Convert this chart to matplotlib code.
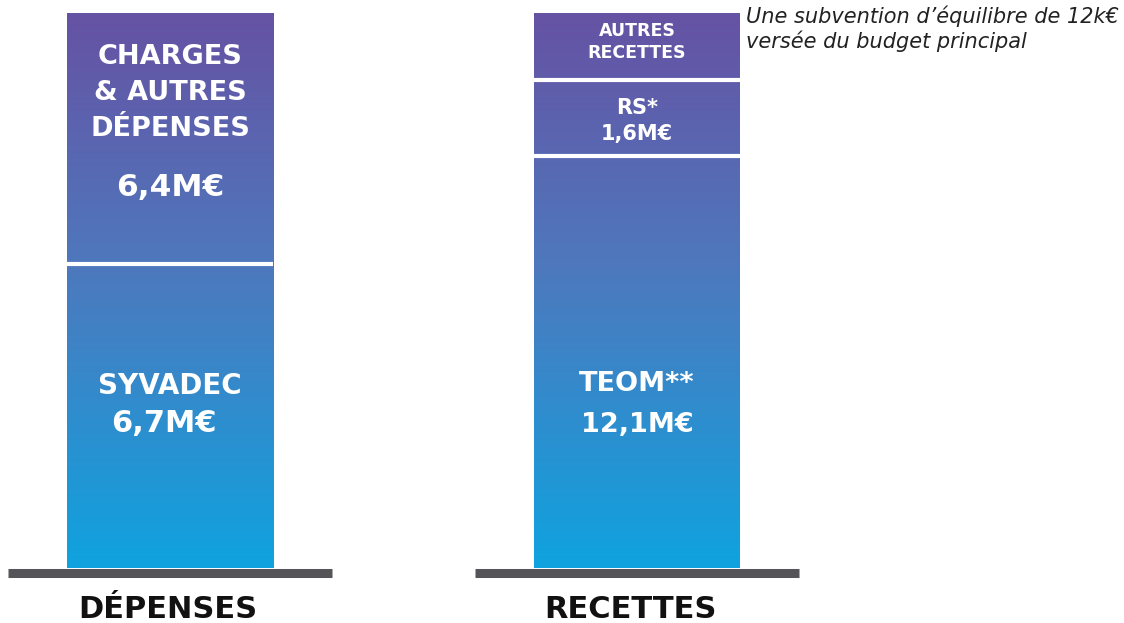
import numpy as np
import matplotlib
matplotlib.use("Agg")
import matplotlib.pyplot as plt
from matplotlib.colors import LinearSegmentedColormap

# ---- data (segment heights as drawn, share of bar height in %) ----
groups = ["DÉPENSES", "RECETTES"]
depenses_labels = ["SYVADEC\n6,7M€", "CHARGES\n& AUTRES\nDÉPENSES"]
depenses_heights = [54.7, 45.3]
recettes_labels = ["TEOM**\n12,1M€", "RS*\n1,6M€", "AUTRES\nRECETTES"]
recettes_heights = [74.3, 13.6, 12.1]
charges_value = "6,4M€"
note = "Une subvention d’équilibre de 12k€\nversée du budget principal"

# ---- figure ----
W, H = 1124, 623
fig = plt.figure(figsize=(W / 100, H / 100), dpi=100)
ax = fig.add_axes([0, 0, 1, 1])
PX_X = 467.0          # pixels per x unit
PX_Y = 5.55           # pixels per y unit
x0_px, y0_px = 170.0, 568.0

def ypx(p):
    return (y0_px - p) / PX_Y

def xpx(p):
    return (p - x0_px) / PX_X

cmap = LinearSegmentedColormap.from_list(
    "g", [(0.0, "#0fa3df"), (0.546, "#4e78bd"), (1.0, "#6652a3")])
grad = np.linspace(0, 1, 256).reshape(-1, 1)

bw = 206 / PX_X
xs = [0, 1]
for x, heights in zip(xs, [depenses_heights, recettes_heights]):
    bottoms = np.concatenate([[0], np.cumsum(heights)[:-1]])
    ax.bar([x] * len(heights), heights, bottom=bottoms, width=bw,
           color="none", edgecolor="none", zorder=2)
    total = sum(heights)
    ax.imshow(grad, cmap=cmap, origin="lower", aspect="auto",
              extent=(x - bw / 2, x + bw / 2, 0, total), zorder=1,
              interpolation="bilinear")
    for b in np.cumsum(heights)[:-1]:
        ax.hlines(b, x - bw / 2, x + bw / 2, color="white", lw=3.0, zorder=3)
    ax.hlines(-4.5 / PX_Y, x - 0.346, x + 0.346, color="#555458", lw=6.5,
              zorder=3)

ax.set_xlim(-x0_px / PX_X, (W - x0_px) / PX_X)
ax.set_ylim(-(H - y0_px) / PX_Y, y0_px / PX_Y)
ax.axis("off")

FONT = "DejaVu Sans"
txt = dict(color="white", fontweight="bold", family=FONT, ha="center",
           va="center", zorder=5)

# Dépenses labels
ax.text(0, ypx(93), depenses_labels[1], fontsize=19.5, linespacing=1.52, **txt)
ax.text(0, ypx(188), charges_value, fontsize=22.5, **txt)
syv, syv_val = depenses_labels[0].split("\n")
ax.text(0, ypx(386), syv, fontsize=20, **txt)
ax.text(xpx(164), ypx(424), syv_val, fontsize=22, **txt)

# Recettes labels
teom, teom_val = recettes_labels[0].split("\n")
ax.text(1, ypx(384), teom, fontsize=19.5, **txt)
ax.text(1, ypx(425), teom_val, fontsize=19.5, **txt)
rs, rs_val = recettes_labels[1].split("\n")
ax.text(1, ypx(108), rs, fontsize=15, **txt)
ax.text(1, ypx(134), rs_val, fontsize=15, **txt)
ax.text(1, ypx(42), recettes_labels[2], fontsize=12.5, linespacing=1.25, **txt)

# group labels
for xp, g in zip([168, 630], groups):
    ax.text(xpx(xp), ypx(610), g, fontsize=22, fontweight="bold", family=FONT,
            color="#111111", ha="center", va="center")

# note
ax.text(xpx(746), ypx(29), note, fontsize=15, style="italic", family=FONT,
        color="#222222", ha="left", va="center", linespacing=1.22)

fig.savefig("out.png", dpi=100)
